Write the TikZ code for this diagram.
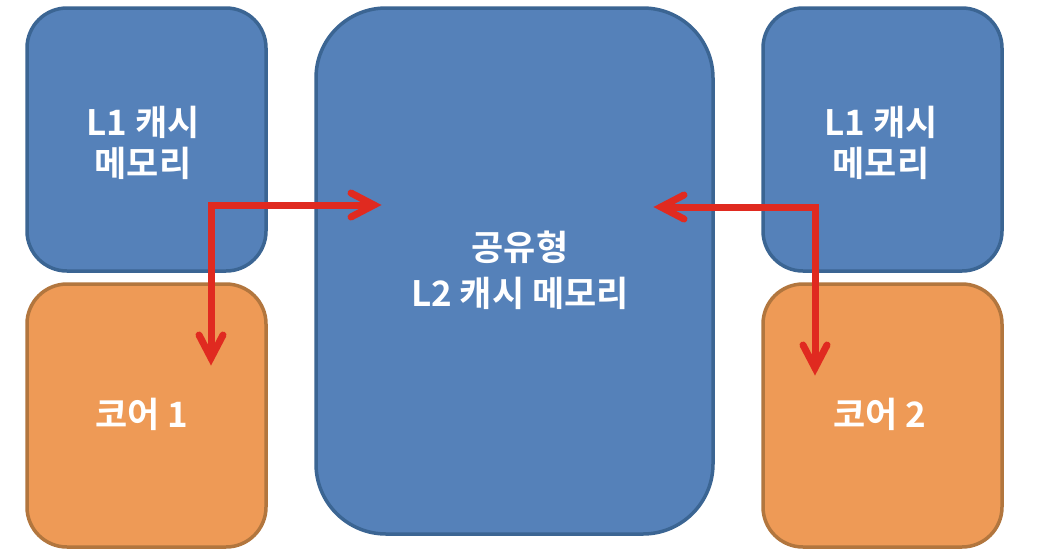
\documentclass[tikz,border=0pt]{standalone}
\usepackage{fontspec}
\setmainfont{Noto Sans CJK KR}[BoldFont={Noto Sans CJK KR Bold}]
\definecolor{bluefill}{HTML}{5581B9}
\definecolor{blueline}{HTML}{3B6593}
\definecolor{orgfill}{HTML}{EE9A56}
\definecolor{orgline}{HTML}{B2763E}
\definecolor{arrred}{HTML}{E02A20}
\tikzset{
  bluebox/.style={draw=blueline, fill=bluefill, line width=3.5pt, rounded corners=40pt},
  orgbox/.style={draw=orgline, fill=orgfill, line width=3.5pt, rounded corners=40pt},
  lbl/.style={text=white, font=\bfseries\fontsize{35}{41}\selectfont, align=center},
  redline/.style={draw=arrred, line width=7pt, line join=miter},
  chevron/.style={draw=arrred, line width=7pt, line join=miter, line cap=round}
}
\begin{document}
\begin{tikzpicture}[x=1pt,y=-1pt]
\useasboundingbox (0,0) rectangle (1037,555);
\fill[white] (0,0) rectangle (1037,555);
% boxes
\draw[bluebox] (27,8) rectangle (266,271);
\draw[orgbox] (27,284) rectangle (266,547);
\draw[bluebox, rounded corners=70pt] (316,8) rectangle (713,534);
\draw[bluebox] (763,8) rectangle (1002,271);
\draw[orgbox] (763,284) rectangle (1002,547);
% labels
\node[lbl] (l1a) at (143,143) {L1 캐시\\메모리};
\node[lbl] (core1) at (142,414) {코어 1};
\node[lbl, font=\bfseries\fontsize{35}{46}\selectfont] (l2) at (520,270) {공유형\\L2 캐시 메모리};
\node[lbl] (l1b) at (881,143) {L1 캐시\\메모리};
\node[lbl] (core2) at (880,414) {코어 2};
% arrow endpoints
\coordinate (a1down) at (211,355);
\coordinate (a1right) at (371,205);
\coordinate (a2down) at (815,365);
\coordinate (a2left) at (664,207);
\draw[redline] (a1down) |- (a1right);
\draw[redline] (a2down) |- (a2left);
% chevron heads
\draw[chevron] ([shift={(-20,-12)}]a1right) -- ([shift={(3,0)}]a1right) -- ([shift={(-20,12)}]a1right);
\draw[chevron] ([shift={(-12,-20)}]a1down) -- ([shift={(0,3)}]a1down) -- ([shift={(12,-20)}]a1down);
\draw[chevron] ([shift={(20,-12)}]a2left) -- ([shift={(-3,0)}]a2left) -- ([shift={(20,12)}]a2left);
\draw[chevron] ([shift={(-12,-20)}]a2down) -- ([shift={(0,3)}]a2down) -- ([shift={(12,-20)}]a2down);
\end{tikzpicture}
\end{document}
